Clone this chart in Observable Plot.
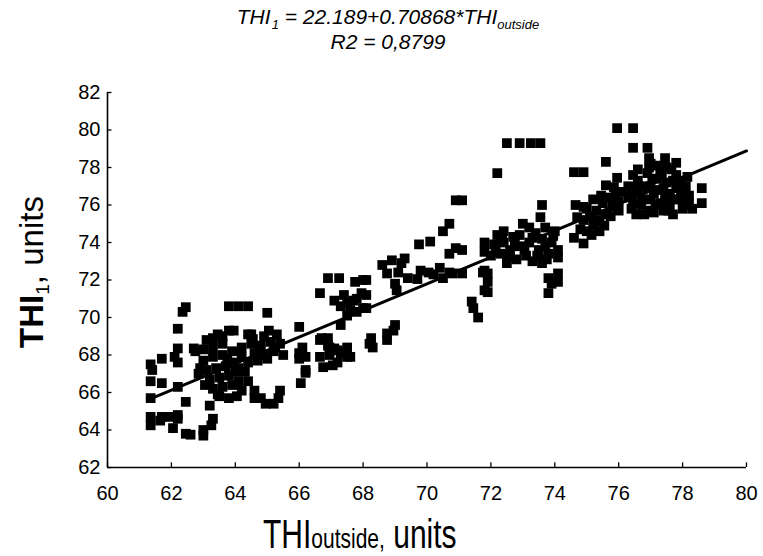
<!DOCTYPE html>
<html>
<head>
<meta charset="utf-8">
<script src="https://cdn.jsdelivr.net/npm/d3@7"></script>
<script src="https://cdn.jsdelivr.net/npm/@observablehq/plot@0.6"></script>
<style>
  html, body { margin: 0; padding: 0; background: #fff; }
  #wrap { position: relative; width: 763px; height: 556px; overflow: hidden;
          font-family: "Liberation Sans", Arial, sans-serif; color: #000; }
  #chart { position: absolute; left: 0; top: 0; }
  .t { position: absolute; left: 0; width: 776px; text-align: center; font-style: italic; white-space: nowrap; }
  #t1 { top: 5px; font-size: 21px; }
  #t2 { top: 30px; font-size: 21px; }
  .t sub { font-size: 13px; vertical-align: -5px; }
  #ylab { position: absolute; left: 33px; top: 272px; transform: translate(-50%, -50%) rotate(-90deg);
          font-size: 33px; white-space: nowrap; }
  #ylab sub { font-size: 19px; vertical-align: -6px; }
  #xlab { position: absolute; left: 263px; top: 512px; font-size: 40px; white-space: nowrap;
          transform-origin: 0 0; transform: scaleX(0.75); }
  #xlab .s { font-size: 28px; }
</style>
</head>
<body>
<div id="wrap">
  <div id="chart"></div>
  <div class="t" id="t1">THI<sub>&#8202;1</sub> = 22.189+0.70868*THI<sub>outside</sub></div>
  <div class="t" id="t2">R2 = 0,8799</div>
  <div id="ylab"><b>THI</b><sub>1</sub>, units</div>
  <div id="xlab">THI<span class="s">outside,</span> units</div>
</div>
<script>
// Tick values
const xTicks = [60, 62, 64, 66, 68, 70, 72, 74, 76, 78, 80];
const yTicks = [62, 64, 66, 68, 70, 72, 74, 76, 78, 80, 82];

// Regression from the title: THI1 = 22.189 + 0.70868 * THIoutside
const fitIntercept = 22.189;
const fitSlope = 0.70868;
const fitRange = [61.4, 80];

const thiOutside = [
  61.35, 61.35, 61.35, 61.35, 61.35, 61.4, 61.7, 61.7, 61.7, 61.65,
  61.95, 62.2, 62.2, 62.2, 62.2, 62.2, 62.05, 62.45, 62.45, 62.6, 62.35, 62.45, 62.2, 62.1,
  62.7, 62.75, 63.0, 63.0, 63.25, 63.3, 63.2, 63.1, 63.3, 62.9,
  63.0, 63.3, 63.6, 63.9, 63.0, 63.3, 63.6, 63.9, 64.2, 63.1, 63.4, 63.7, 64.0, 63.2, 63.5, 63.8, 64.1, 63.3, 63.6, 63.9, 63.5, 63.8, 64.2, 63.6, 63.95,
  63.8, 64.1, 64.4, 63.8, 64.4, 65.0, 64.5, 64.9, 65.3, 64.5, 64.8, 65.1, 65.4, 64.6, 64.9, 65.2, 65.5, 64.4, 64.7, 65.0, 64.4, 64.6, 64.6, 64.8, 64.95, 65.2, 65.35, 65.4, 64.3,
  62.85, 63.05, 63.45, 64.05, 64.2, 63.45, 63.75, 64.1, 64.55, 65.25, 64.75, 65.05,
  66.0, 66.0, 66.0, 66.1, 66.2, 66.2, 66.05, 66.2,
  66.65, 66.9, 67.1, 67.3, 66.65, 66.95, 67.2, 67.5, 67.6, 66.75, 67.05, 67.2, 67.5, 66.7, 66.9, 66.95, 67.3,
  66.9, 67.25, 67.75, 68.0, 66.65, 67.1, 67.4, 67.5, 67.6, 67.8, 67.95, 67.5, 67.8, 68.0, 67.3, 67.7, 68.1, 68.1, 68.1, 68.2,
  68.25, 68.3, 68.75, 68.75, 69.0, 68.95,
  68.9, 69.3, 68.75, 69.1, 69.0, 69.05, 69.4, 69.7, 70.05, 70.4, 70.5, 70.8, 71.1, 71.75, 71.8, 68.6, 69.2, 70.2, 69.8, 70.7,
  70.9, 71.1, 70.7, 70.5, 70.1, 69.75, 70.9, 71.1, 70.7, 71.8, 71.45, 71.6, 71.4,
  72.2, 72.5, 72.9, 73.25, 73.55, 73.6, 73.55, 71.8, 71.9, 71.9, 71.9, 73.8, 74.1, 73.9, 74.1, 73.8,
  71.8, 72.0, 72.1, 72.3, 72.4, 72.6, 72.7, 72.9, 72.9, 73.1, 73.2, 73.4, 73.5, 73.6, 73.7, 73.8, 73.9, 74.0, 73.6, 72.5, 72.8, 73.3, 74.1, 73.7, 73.0, 72.4, 72.2,
  72.15, 72.55, 72.75, 73.05, 73.3, 73.45, 73.75, 73.95, 72.35, 74.1, 73.2,
  74.6, 74.9, 74.65, 74.9, 74.7, 74.9, 74.6, 74.9, 75.6, 75.95, 75.6, 75.95, 76.45, 76.45,
  75.0, 75.2, 75.1, 75.4, 75.3, 75.6, 75.5, 75.8, 75.7, 76.0, 75.9, 75.0, 75.2, 74.8, 75.4, 76.1,
  75.3, 75.55, 75.75, 76.0, 75.15, 75.45, 75.85,
  76.9, 76.95, 77.0, 77.45, 77.8, 78.6, 78.6, 78.2, 78.3,
  76.3, 76.3, 76.4, 76.6, 76.6, 76.7, 76.8, 76.9, 76.9, 77.0, 77.1, 77.2, 77.2, 77.3, 77.4, 77.5, 77.5, 77.6, 77.6, 77.8, 77.8, 77.9, 78.0, 78.1, 78.2, 77.3, 77.7, 76.5, 77.0,
  76.45, 76.45, 76.55, 76.75, 76.75, 76.95, 77.05, 77.1, 77.15, 77.35, 77.4, 77.45, 77.55, 77.65, 77.7, 77.75, 77.95, 77.95, 78.05, 78.15, 76.95, 77.2, 76.6, 76.4
];
const thi1 = [
  67.5, 66.6, 65.7, 64.7, 64.25, 67.2, 67.8, 66.5, 64.7, 64.5,
  64.7, 64.8, 66.3, 67.6, 68.35, 69.4, 64.1, 63.8, 65.5, 63.75, 70.3, 70.55, 64.6, 67.9,
  68.35, 68.2, 63.7, 64.0, 64.25, 64.6, 65.3, 68.8, 68.9, 67.3,
  68.3, 68.4, 68.6, 68.2, 67.7, 67.9, 68.0, 67.6, 67.9, 67.2, 67.3, 67.4, 67.1, 66.7, 66.8, 66.9, 66.6, 66.2, 66.3, 66.4, 65.8, 65.7, 66.1, 69.0, 69.3,
  70.6, 70.6, 70.6, 69.3, 69.1, 70.25, 69.1, 69.0, 69.1, 68.6, 68.5, 68.7, 68.6, 68.1, 68.0, 68.2, 68.0, 67.6, 67.7, 67.8, 66.6, 66.1, 65.7, 65.7, 65.4, 65.4, 65.7, 66.1, 67.1,
  67.0, 66.4, 65.9, 65.8, 68.4, 69.1, 67.8, 67.3, 68.85, 68.4, 68.25, 69.3,
  69.5, 68.1, 67.8, 68.4, 67.9, 67.05, 66.5, 67.2,
  68.8, 68.5, 68.35, 68.1, 67.9, 68.0, 68.25, 68.4, 67.9, 67.35, 67.45, 67.6, 67.9, 68.9, 68.9, 68.4, 69.6,
  72.1, 72.1, 71.9, 72.0, 71.3, 70.9, 71.2, 70.8, 70.4, 71.0, 71.3, 70.1, 70.3, 70.5, 70.6, 70.9, 72.0, 71.2, 70.5, 68.6,
  68.9, 68.4, 69.15, 68.8, 69.6, 69.3,
  73.05, 73.15, 72.35, 72.4, 71.8, 71.45, 72.1, 72.05, 72.4, 72.65, 72.1, 72.35, 72.35, 72.4, 71.45, 72.8, 72.9, 72.3, 72.5, 72.4,
  76.25, 76.25, 75.0, 74.6, 74.05, 73.9, 73.7, 73.6, 73.4, 74.0, 70.5, 70.0, 70.85,
  77.7, 79.3, 79.3, 79.3, 79.3, 76.0, 75.35, 72.5, 72.35, 71.9, 71.35, 72.1, 72.35, 71.8, 71.9, 71.3,
  73.5, 73.3, 73.9, 73.4, 74.0, 73.6, 74.3, 73.8, 74.4, 73.3, 74.0, 74.5, 73.6, 74.2, 74.8, 73.4, 74.0, 74.6, 72.9, 72.9, 73.1, 73.0, 73.2, 73.8, 75.0, 74.6, 74.4,
  73.6, 73.2, 73.95, 73.6, 74.25, 73.3, 73.1, 74.35, 74.25, 73.6, 74.8,
  77.75, 77.75, 76.0, 75.9, 75.35, 75.2, 74.25, 73.95, 78.3, 77.45, 77.05, 80.1, 80.1, 79.05,
  74.6, 74.9, 75.4, 75.1, 75.7, 75.5, 76.1, 75.9, 76.4, 76.2, 76.6, 75.8, 76.3, 74.7, 74.6, 76.7,
  75.2, 74.9, 75.4, 75.7, 74.4, 76.5, 76.95,
  79.05, 78.5, 78.2, 78.5, 78.25, 76.9, 76.1, 76.1, 75.8,
  77.0, 76.4, 75.8, 77.3, 76.6, 76.0, 75.5, 77.7, 76.9, 76.3, 75.6, 77.4, 76.8, 76.1, 75.7, 78.0, 77.2, 76.6, 76.0, 77.6, 76.9, 76.3, 75.8, 77.0, 76.5, 77.9, 75.5, 76.9, 77.0,
  77.6, 76.1, 75.5, 77.0, 76.3, 75.7, 77.4, 76.6, 76.0, 77.6, 76.9, 76.4, 75.7, 77.9, 77.3, 76.3, 77.3, 76.6, 76.0, 77.5, 78.0, 78.1, 77.9, 76.8
];

const points = thiOutside.map((x, i) => ({x, y: thi1[i]})).filter(d => d.y != null);
const fit = fitRange.map(x => ({x, y: fitIntercept + fitSlope * x}));

const chart = Plot.plot({
  width: 763,
  height: 556,
  marginLeft: 107,
  marginRight: 17,
  marginTop: 92,
  marginBottom: 89,
  style: { fontFamily: "'Liberation Sans', Arial, sans-serif", fontSize: "20px", color: "#000", background: "transparent", overflow: "visible" },
  x: { domain: [60, 80] },
  y: { domain: [62, 82] },
  marks: [
    Plot.axisX(xTicks, { tickSize: 0, tickPadding: 18, label: null, fontSize: 20 }),
    Plot.axisY(yTicks, { tickSize: 0, tickPadding: 7, label: null, fontSize: 20 }),
    Plot.ruleX(xTicks, { x: d => d, y1: 62, y2: 62.25, stroke: "#000", strokeWidth: 1.3 }),
    Plot.ruleY(yTicks, { y: d => d, x1: 60, x2: 60.14, stroke: "#000", strokeWidth: 1.3 }),
    Plot.ruleX([60], { y1: 62, y2: 82, stroke: "#000", strokeWidth: 1.6 }),
    Plot.ruleY([62], { x1: 60, x2: 80, stroke: "#000", strokeWidth: 1.6 }),
    Plot.dot(points, { x: "x", y: "y", symbol: "square", r: 5.5, fill: "#000", stroke: null }),
    Plot.line(fit, { x: "x", y: "y", stroke: "#000", strokeWidth: 3 })
  ]
});
document.getElementById("chart").appendChild(chart);
</script>
</body>
</html>
